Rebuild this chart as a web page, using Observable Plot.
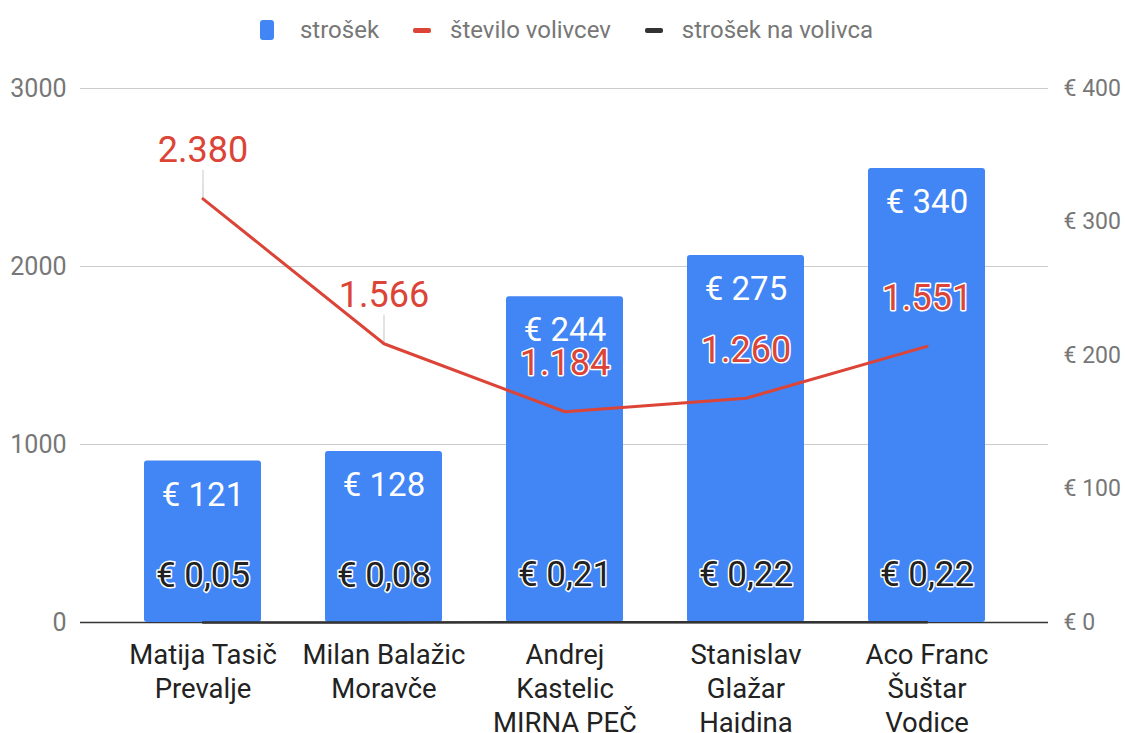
<!DOCTYPE html>
<html>
<head>
<meta charset="utf-8">
<script src="https://cdn.jsdelivr.net/npm/d3@7"></script>
<script src="https://cdn.jsdelivr.net/npm/@observablehq/plot@0.6"></script>
<style>
  body { margin: 0; background: #fff; font-family: Roboto, "Noto Sans", sans-serif; }
  #legend { height: 60px; display: flex; justify-content: center; align-items: center; font-size: 24px; color: #777; padding-left: 8px; box-sizing: border-box; }
  .item { display: flex; align-items: center; margin: 0 17px; }
  .sw-bar { width: 14px; height: 20px; border-radius: 3px; margin-right: 26px; }
  .sw-line { width: 18px; height: 5px; border-radius: 2px; margin-right: 19px; }
</style>
</head>
<body>
<div id="legend"></div>
<div id="chart"></div>
<script>
// ---- data ----
const candidates = [
  "Matija Tasič\nPrevalje",
  "Milan Balažic\nMoravče",
  "Andrej\nKastelic\nMIRNA PEČ",
  "Stanislav\nGlažar\nHajdina",
  "Aco Franc\nŠuštar\nVodice"
];
const cost = [121, 128, 244, 275, 340];          // strošek (€), right axis
const voters = [2380, 1566, 1184, 1260, 1551];   // število volivcev, left axis
const costPerVoter = [0.05, 0.08, 0.21, 0.22, 0.22]; // strošek na volivca (€), right axis
const leftTicks = [0, 1000, 2000, 3000];
const rightTicks = [0, 100, 200, 300, 400];
const seriesNames = ["strošek", "število volivcev", "strošek na volivca"];
const seriesColors = ["#4285F4", "#DB4437", "#333333"];

// right (€) axis max 400 aligned with left axis max 3000
const leftMax = 3000, rightMax = 400;
const k = leftMax / rightMax;

const loc = d3.formatLocale({decimal: ",", thousands: ".", grouping: [3], currency: ["€ ", ""]});
const fmtInt = loc.format(",d");
const fmtEur = v => "€ " + loc.format(",d")(v);
const fmtEur2 = v => "€ " + loc.format(".2f")(v);

const data = candidates.map((c, i) => ({
  name: c, cost: cost[i], voters: voters[i], cpv: costPerVoter[i]
}));

// ---- legend ----
const legend = document.getElementById("legend");
seriesNames.forEach((n, i) => {
  const it = document.createElement("div");
  it.className = "item";
  const sw = document.createElement("div");
  sw.className = i === 0 ? "sw-bar" : "sw-line";
  sw.style.background = seriesColors[i];
  const t = document.createElement("span");
  t.textContent = n;
  it.appendChild(sw); it.appendChild(t);
  legend.appendChild(it);
});

// ---- chart ----
const chart = Plot.plot({
  width: 1125,
  height: 673,
  marginTop: 28,
  marginBottom: 111,
  marginLeft: 80,
  marginRight: 77,
  style: {fontFamily: "Roboto, sans-serif", color: "#777", background: "#fff"},
  x: {domain: candidates, paddingInner: 0.355, paddingOuter: 0.344},
  y: {domain: [0, leftMax]},
  marks: [
    Plot.ruleY(leftTicks.filter(d => d > 0), {stroke: "#cccccc", strokeWidth: 1}),
    Plot.ruleY([0], {stroke: "#333", strokeWidth: 1.5}),
    Plot.axisY(leftTicks, {anchor: "left", tickSize: 0, tickPadding: 14, fontSize: 25, fill: "#777", tickFormat: d => String(d), label: null}),
    Plot.axisY(rightTicks.map(d => d * k), {anchor: "right", tickSize: 0, tickPadding: 15, fontSize: 23, fill: "#777", tickFormat: d => "€ " + Math.round(d / k), label: null}),
    Plot.axisX({tickSize: 0, tickPadding: 17, fontSize: 27.5, fill: "#222", lineAnchor: "top", lineHeight: 1.24, label: null}),
    // leader lines for line labels (hidden behind bars where they overlap)
    Plot.vector(data, {x: "name", y: "voters", length: 29, rotate: 0, anchor: "start", shape: "spike", r: 0.4, stroke: "#dddddd", fill: "#dddddd", strokeWidth: 1}),
    Plot.barY(data, {x: "name", y: d => d.cost * k, fill: seriesColors[0], rx: 3}),
    Plot.line(data, {x: "name", y: "voters", stroke: seriesColors[1], strokeWidth: 3}),
    Plot.line(data, {x: "name", y: d => d.cpv * k, stroke: seriesColors[2], strokeWidth: 2.5}),
    Plot.text(data, {x: "name", y: d => d.cost * k, text: d => fmtEur(d.cost), dy: 34, fill: "#fff", fontSize: 33}),
    Plot.text(data, {x: "name", y: "voters", text: d => fmtInt(d.voters), dy: -48, fill: seriesColors[1], stroke: "#fff", strokeWidth: 3, fontSize: 36}),
    Plot.text(data, {x: "name", y: d => d.cpv * k, text: d => fmtEur2(d.cpv), dy: -47, fill: "#222", stroke: "#fff", strokeWidth: 3, fontSize: 35})
  ]
});
document.getElementById("chart").appendChild(chart);
</script>
</body>
</html>
